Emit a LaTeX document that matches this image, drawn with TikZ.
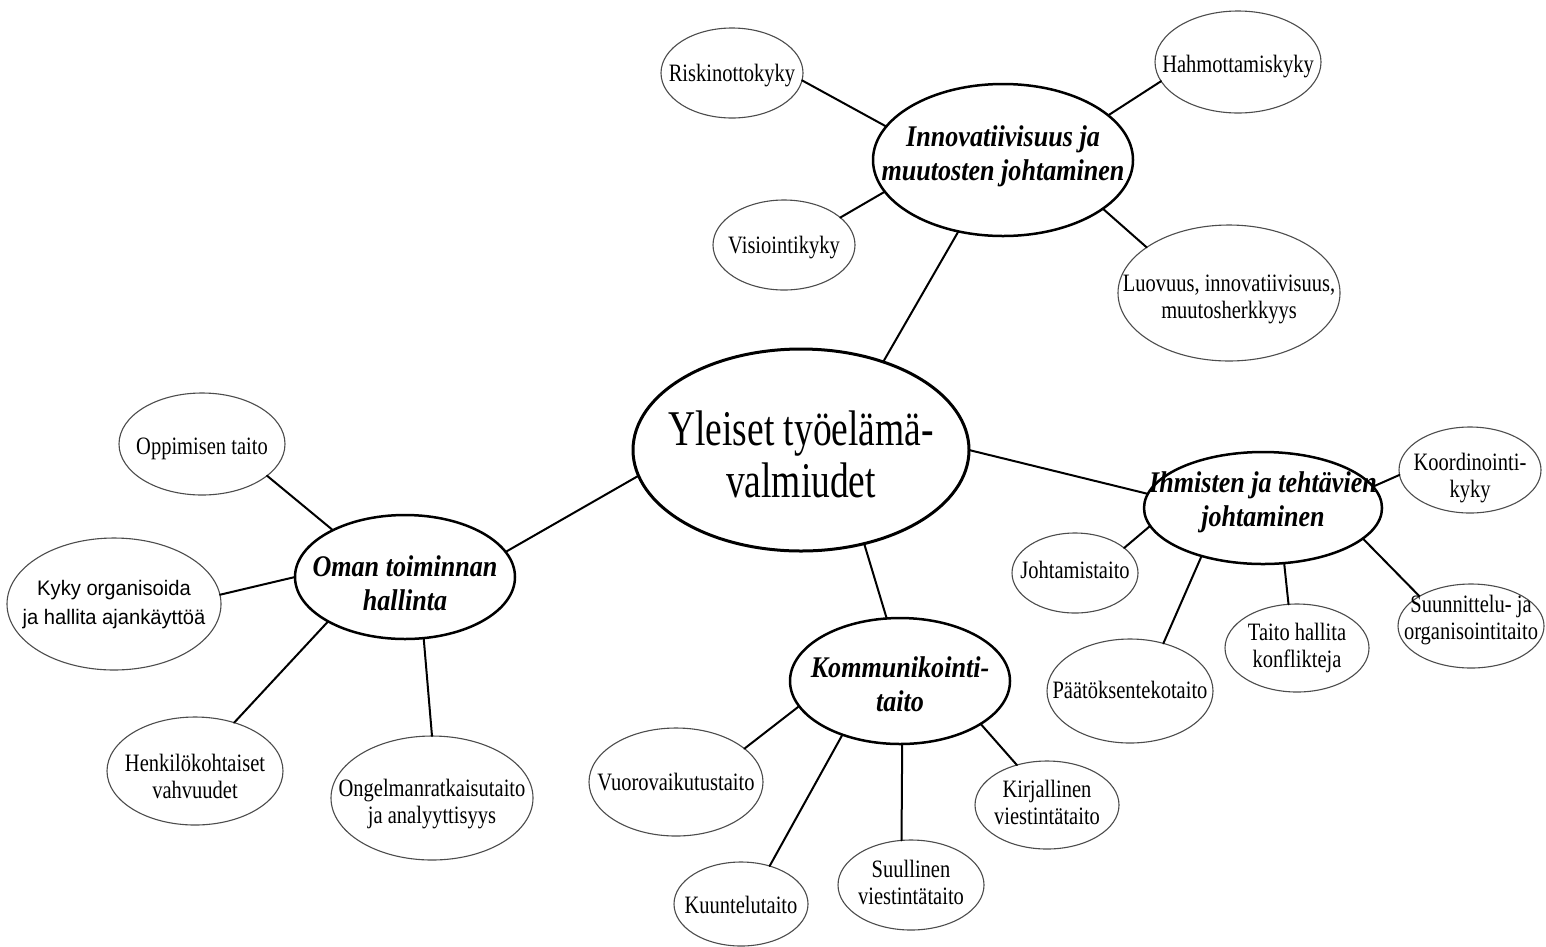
\documentclass[tikz,border=0pt]{standalone}
\usepackage{fontspec}
\usetikzlibrary{shapes.geometric}
\newfontfamily\fmain[FakeStretch=0.75]{Liberation Serif}
\newfontfamily\fcat[FakeStretch=0.87]{Liberation Serif}
\newfontfamily\fleaf[FakeStretch=0.82]{Liberation Serif}
\newfontfamily\fsans[FakeStretch=0.96]{Liberation Sans}
\newcommand{\lbl}[2]{\makebox[0pt]{\raisebox{#1}[\height][\depth]{\begin{tabular}{@{}c@{}}#2\end{tabular}}}}
\begin{document}
\begin{tikzpicture}[x=1pt,y=-1pt,
  bub/.style={ellipse, draw, inner sep=0pt, outer sep=0pt, fill=white},
  sz/.style 2 args={minimum width=2*#1pt, minimum height=2*#2pt},
  mainbub/.style={bub, line width=3pt, font=\fmain\fontsize{50}{52}\selectfont},
  catbub/.style={bub, line width=2.5pt, font=\fcat\bfseries\itshape\fontsize{30}{34}\selectfont},
  leafbub/.style={bub, line width=1.1pt, draw=black!70, font=\fleaf\fontsize{25}{27}\selectfont},
  sansbub/.style={leafbub, font=\fsans\fontsize{21}{29}\selectfont},
  link/.style={line width=2pt, line cap=round}
]
\useasboundingbox[fill=white] (0,0) rectangle (1546,946);

% central node
\node[mainbub, sz={168}{101}] (main) at (801,450) {\lbl{-11pt}{Yleiset työelämä-\\valmiudet}};

% category nodes
\node[catbub, sz={130}{76}] (innov) at (1003,160) {\lbl{3pt}{Innovatiivisuus ja\\muutosten johtaminen}};
\node[catbub, sz={110}{62}] (oman) at (405,577) {\lbl{-9.5pt}{Oman toiminnan\\hallinta}};
\node[catbub, sz={119}{56}] (ihm) at (1263,508) {\lbl{5pt}{Ihmisten ja tehtävien\\johtaminen}};
\node[catbub, sz={110}{63}] (komm) at (900,681) {\lbl{-6.5pt}{Kommunikointi-\\taito}};

% leaves of innov
\node[leafbub, sz={71}{45}] (risk) at (732,73) {\lbl{-2.6pt}{Riskinottokyky}};
\node[leafbub, sz={83}{51}] (hahm) at (1238,62) {\lbl{-4.6pt}{Hahmottamiskyky}};
\node[leafbub, sz={71}{45}] (visio) at (784,245) {\lbl{-2.6pt}{Visiointikyky}};
\node[leafbub, sz={111}{68}] (luov) at (1229,293) {\lbl{-7pt}{Luovuus, innovatiivisuus,\\muutosherkkyys}};

% leaves of oman
\node[leafbub, sz={83}{51}] (oppim) at (202,444) {\lbl{-4.6pt}{Oppimisen taito}};
\node[sansbub, sz={107}{66}] (kyky) at (114,604) {\lbl{0pt}{Kyky organisoida\\ja hallita ajankäyttöä}};
\node[leafbub, sz={88}{54}] (henk) at (195,771) {\lbl{-9pt}{Henkilökohtaiset\\vahvuudet}};
\node[leafbub, sz={101}{62}] (ong) at (432,798) {\lbl{-7pt}{Ongelmanratkaisutaito\\ja analyyttisyys}};

% leaves of ihm
\node[leafbub, sz={71}{43}] (koord) at (1470,470) {\lbl{-9pt}{Koordinointi-\\kyky}};
\node[leafbub, sz={63}{40}] (joht) at (1075,573) {\lbl{0pt}{Johtamistaito}};
\node[leafbub, sz={83}{52}] (paat) at (1130,691) {\lbl{-1.6pt}{Päätöksentekotaito}};
\node[leafbub, sz={72}{44}] (taito) at (1297,648) {\lbl{-1pt}{Taito hallita\\konflikteja}};
\node[leafbub, sz={73}{42}] (suunn) at (1471,626) {\lbl{5pt}{Suunnittelu- ja\\organisointitaito}};

% leaves of komm
\node[leafbub, sz={87}{54}] (vuoro) at (676,782) {\lbl{-2.6pt}{Vuorovaikutustaito}};
\node[leafbub, sz={67}{42}] (kuunt) at (741,904) {\lbl{-3.6pt}{Kuuntelutaito}};
\node[leafbub, sz={73}{45}] (suull) at (911,885) {\lbl{-1pt}{Suullinen\\viestintätaito}};
\node[leafbub, sz={72}{44}] (kirj) at (1047,805) {\lbl{-1pt}{Kirjallinen\\viestintätaito}};

% connectors
\draw[link] (main.47.7) -- (innov.238.9);
\draw[link] (main.189.7) -- (oman.14.8);
\draw[link] (main.0.7) -- (ihm.173.8);
\draw[link] (main.304.4) -- (komm.102.5);

\draw[link] (innov.164.5) -- (risk.354.4);
\draw[link] (innov.195.4) -- (visio.26.2);
\draw[link] (innov.23) -- (hahm.194.7);
\draw[link] (innov.334.4) -- (luov.151.8);

\draw[link] (oman.147.6) -- (oppim.334.8);
\draw[link] (oman.180) -- (kyky.5.8);
\draw[link] (oman.210.5) -- (henk.51.6);
\draw[link] (oman.287.3) -- (ong.90.9);

\draw[link] (ihm.11.9) -- (koord.184);
\draw[link] (ihm.189.5) -- (joht.27.5);
\draw[link] (ihm.218.7) -- (paat.55);
\draw[link] (ihm.291.8) -- (taito.101.6);
\draw[link] (ihm.343.2) -- (suunn.150.4);

\draw[link] (komm.194.2) -- (vuoro.26.9);
\draw[link] (komm.223) -- (kuunt.53.4);
\draw[link] (komm.272.7) -- (suull.102.5);
\draw[link] (komm.332.1) -- (kirj.127.3);
\end{tikzpicture}
\end{document}
